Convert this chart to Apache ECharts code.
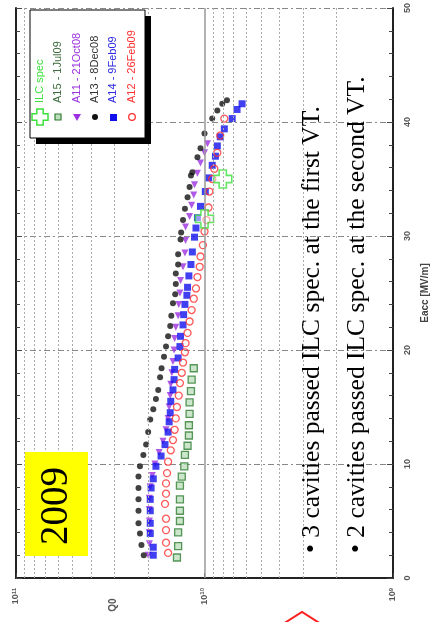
<!DOCTYPE html>
<html><head><meta charset="utf-8">
<script src="https://cdn.jsdelivr.net/npm/echarts/dist/echarts.min.js"></script>
<style>html,body{margin:0;padding:0;background:#fff}#c{width:438px;height:622px}</style>
</head><body><div id="c"></div>
<script>
// ---- data (Eacc in MV/m, Q0) ----
const ilcE = [31.5, 35.0];
const ilcQ = [1.0e10, 8.0e9];

const a15E = [1.8, 2.8, 4.0, 5.0, 5.9, 6.9, 8.1, 8.9, 9.8, 10.8, 11.6, 12.5, 13.4, 14.4, 15.4, 16.4, 17.4, 18.4];
const a15Q = [1.40e10, 1.38e10, 1.38e10, 1.35e10, 1.35e10, 1.35e10, 1.35e10, 1.32e10, 1.28e10, 1.27e10, 1.23e10, 1.21e10, 1.21e10, 1.20e10, 1.20e10, 1.18e10, 1.17e10, 1.14e10];

const a11E = [2.0, 3.0, 4.0, 5.0, 6.0, 7.0, 8.0, 9.0, 10.0, 11.0, 12.0, 13.0, 14.0, 15.0, 16.0, 17.0, 18.0, 19.0, 20.0, 21.0, 22.0, 23.0, 24.0, 25.0, 26.1, 27.3, 28.5, 29.6, 30.8, 31.7, 32.7, 33.6, 34.5, 35.5, 36.4, 37.3, 38.1];
const a11Q = [1.99e10, 1.96e10, 1.96e10, 1.96e10, 1.96e10, 1.96e10, 1.94e10, 1.89e10, 1.83e10, 1.74e10, 1.66e10, 1.60e10, 1.56e10, 1.54e10, 1.52e10, 1.51e10, 1.49e10, 1.47e10, 1.45e10, 1.44e10, 1.42e10, 1.38e10, 1.37e10, 1.35e10, 1.34e10, 1.30e10, 1.27e10, 1.26e10, 1.26e10, 1.20e10, 1.17e10, 1.14e10, 1.13e10, 1.09e10, 1.05e10, 1.00e10, 9.64e9];

const a13E = [2.0, 2.9, 3.9, 4.8, 5.9, 6.9, 7.9, 8.9, 9.8, 10.8, 11.7, 12.8, 13.9, 14.8, 15.7, 16.5, 17.6, 18.4, 19.4, 20.3, 21.2, 22.1, 23.0, 24.1, 24.9, 25.8, 26.7, 27.5, 28.4, 29.7, 30.3, 31.4, 32.4, 33.4, 34.3, 35.3, 35.6, 36.9, 37.7, 39.0, 40.3, 41.0, 41.6, 41.9];
const a13Q = [2.10e10, 2.16e10, 2.20e10, 2.24e10, 2.24e10, 2.24e10, 2.24e10, 2.24e10, 2.20e10, 2.11e10, 2.04e10, 1.99e10, 1.94e10, 1.87e10, 1.81e10, 1.76e10, 1.72e10, 1.69e10, 1.64e10, 1.60e10, 1.56e10, 1.52e10, 1.50e10, 1.47e10, 1.43e10, 1.42e10, 1.42e10, 1.38e10, 1.38e10, 1.34e10, 1.33e10, 1.30e10, 1.27e10, 1.23e10, 1.20e10, 1.18e10, 1.16e10, 1.09e10, 1.05e10, 1.00e10, 9.10e9, 8.55e9, 8.05e9, 7.60e9];

const a14E = [2.0, 2.7, 3.9, 4.8, 5.9, 6.9, 7.9, 8.7, 9.8, 10.7, 11.7, 12.8, 13.7, 14.5, 15.5, 16.5, 17.4, 18.3, 19.3, 20.3, 21.2, 22.2, 23.1, 24.0, 24.8, 25.5, 26.5, 27.5, 28.6, 29.9, 30.7, 31.6, 32.6, 33.9, 35.1, 36.2, 37.0, 37.9, 38.7, 39.4, 40.3, 41.1, 41.6];
const a14Q = [1.87e10, 1.87e10, 1.94e10, 1.94e10, 1.94e10, 1.94e10, 1.92e10, 1.87e10, 1.81e10, 1.70e10, 1.62e10, 1.56e10, 1.54e10, 1.52e10, 1.51e10, 1.47e10, 1.45e10, 1.44e10, 1.38e10, 1.35e10, 1.34e10, 1.30e10, 1.29e10, 1.27e10, 1.24e10, 1.23e10, 1.21e10, 1.18e10, 1.16e10, 1.13e10, 1.11e10, 1.09e10, 1.05e10, 9.9e9, 9.5e9, 9.1e9, 8.75e9, 8.55e9, 8.25e9, 7.85e9, 7.13e9, 6.72e9, 6.32e9];

const a12E = [2.2, 3.1, 4.2, 5.2, 6.5, 7.4, 8.3, 9.2, 10.2, 11.2, 12.1, 13.0, 14.0, 15.0, 16.0, 17.1, 18.0, 18.9, 19.8, 20.6, 21.5, 22.5, 23.5, 24.5, 25.4, 26.4, 27.3, 28.2, 29.2, 30.4, 31.4, 32.5, 33.9, 35.0, 35.9, 37.3, 38.8, 40.3];
const a12Q = [1.56e10, 1.60e10, 1.60e10, 1.60e10, 1.62e10, 1.60e10, 1.60e10, 1.58e10, 1.56e10, 1.51e10, 1.47e10, 1.44e10, 1.42e10, 1.40e10, 1.37e10, 1.35e10, 1.32e10, 1.30e10, 1.27e10, 1.26e10, 1.23e10, 1.20e10, 1.17e10, 1.14e10, 1.11e10, 1.09e10, 1.06e10, 1.05e10, 1.02e10, 1.00e10, 9.77e9, 9.53e9, 9.42e9, 9.1e9, 8.87e9, 8.55e9, 8.25e9, 7.85e9];

const legendLabels = ['ILC spec', 'A15 - 1Jul09', 'A11 - 21Oct08', 'A13 - 8Dec08', 'A14 - 9Feb09', 'A12 - 26Feb09'];
const gridQ = [2e9, 3e9, 4e9, 5e9, 6e9, 7e9, 8e9, 9e9, 2e10, 3e10, 4e10, 5e10, 6e10, 7e10, 8e10, 9e10];
const notes = ['\u2022 3 cavities passed ILC spec. at the first VT.', '\u2022 2 cavities passed ILC spec. at the second VT.'];
const yearLabel = '2009';

// ---- helpers ----
const pairs = (q, e) => q.map((v, i) => [v, e[i]]);
const PLUS = 'path://M3,0L7,0L7,3L10,3L10,7L7,7L7,10L3,10L3,7L0,7L0,3L3,3Z';
const ROT = Math.PI / 2;
const plusPoly = (cx, cy, s) => {
  const u = s / 10, x0 = cx - s / 2, y0 = cy - s / 2;
  return [[3,0],[7,0],[7,3],[10,3],[10,7],[7,7],[7,10],[3,10],[3,7],[0,7],[0,3],[3,3]].map(p => [x0 + p[0] * u, y0 + p[1] * u]);
};

const colors = {ilc: '#3de03d', a15: '#2f7d32', a11: '#9b30e0', a13: '#111111', a14: '#1010ee', a12: '#ff3030'};
const legendColors = ['#3de03d', '#3b6b3b', '#9b30e0', '#333333', '#2a2ae0', '#ff3030'];

const chart = echarts.init(document.getElementById('c'), null, {renderer: 'canvas'});

const expFmt = v => '10{s|' + Math.round(Math.log10(v)) + '}';

const graphics = [];
graphics.push({type: 'rect', shape: {x: 36, y: 16, width: 115, height: 128}, style: {fill: '#000'}, z: 10});
graphics.push({type: 'rect', shape: {x: 30, y: 10, width: 115, height: 128}, style: {fill: '#fff', stroke: '#000', lineWidth: 1}, z: 11});
const legX = [40, 58, 77, 95, 113, 132];
legendLabels.forEach((t, i) => {
  graphics.push({type: 'text', x: legX[i], y: 103, rotation: ROT, z: 12,
    style: {text: t, fill: legendColors[i], font: '11px "Liberation Sans", Arial, sans-serif', textAlign: 'left', textVerticalAlign: 'middle'}});
});
graphics.push({type: 'polygon', z: 12, shape: {points: plusPoly(40, 117, 16)}, style: {fill: '#fff', stroke: colors.ilc, lineWidth: 1.5}});
graphics.push({type: 'rect', z: 12, shape: {x: 55, y: 114, width: 6, height: 6}, style: {fill: '#bfe0bf', stroke: colors.a15, lineWidth: 1.2}});
graphics.push({type: 'polygon', z: 12, shape: {points: [[73, 114], [81, 114], [77, 121]]}, style: {fill: colors.a11}});
graphics.push({type: 'circle', z: 12, shape: {cx: 95, cy: 117, r: 3}, style: {fill: colors.a13}});
graphics.push({type: 'rect', z: 12, shape: {x: 110, y: 114, width: 7, height: 7}, style: {fill: colors.a14}});
graphics.push({type: 'circle', z: 12, shape: {cx: 132, cy: 117, r: 3.3}, style: {fill: '#fff', stroke: colors.a12, lineWidth: 1.3}});

graphics.push({type: 'rect', z: 10, shape: {x: 25, y: 452, width: 63, height: 104}, style: {fill: '#ffff00'}});
graphics.push({type: 'text', x: 57, y: 506, rotation: ROT, z: 11,
  style: {text: yearLabel, fill: '#000', font: '39px "Liberation Serif", "Times New Roman", serif', textAlign: 'center', textVerticalAlign: 'middle'}});

graphics.push({type: 'text', x: 312, y: 553, rotation: ROT, z: 11,
  style: {text: notes[0], fill: '#000', font: '25.5px "Liberation Serif", "Times New Roman", serif', textAlign: 'left', textVerticalAlign: 'middle'}});
graphics.push({type: 'text', x: 357, y: 553, rotation: ROT, z: 11,
  style: {text: notes[1], fill: '#000', font: '25.5px "Liberation Serif", "Times New Roman", serif', textAlign: 'left', textVerticalAlign: 'middle'}});

graphics.push({type: 'text', x: 113, y: 605, rotation: ROT, z: 11,
  style: {text: 'Q0', fill: '#555', font: 'bold 10px "Liberation Sans", Arial, sans-serif', textAlign: 'center', textVerticalAlign: 'middle'}});

graphics.push({type: 'polyline', z: 11, shape: {points: [[283, 624], [302, 612], [321, 624]]}, style: {stroke: '#ff2020', lineWidth: 2, fill: null}});

const gridLines = gridQ.map(v => ({xAxis: v}));
gridLines.push({xAxis: 1e10, lineStyle: {type: 'solid', color: '#999', width: 1.5}});

const option = {
  animation: false,
  backgroundColor: '#fff',
  grid: {left: 16, right: 41, top: 1, bottom: 44, containLabel: false},
  xAxis: [{
    type: 'log', logBase: 10, min: 1e9, max: 1e11, inverse: true, position: 'bottom',
    axisLine: {show: true, lineStyle: {color: '#222', width: 2}},
    axisTick: {show: true, inside: true, length: 5, lineStyle: {color: '#444'}},
    axisLabel: {rotate: 90, margin: 10, color: '#555', fontSize: 9, fontWeight: 'bold', formatter: expFmt,
      rich: {s: {fontSize: 6, fontWeight: 'bold', color: '#555', verticalAlign: 'top', padding: [0, 0, 4, 0]}}},
    splitLine: {show: false}
  }, {
    type: 'log', logBase: 10, min: 1e9, max: 1e11, inverse: true, position: 'top',
    axisLine: {show: true, lineStyle: {color: '#222', width: 2}},
    axisTick: {show: false}, axisLabel: {show: false}, splitLine: {show: false}
  }],
  yAxis: [{
    type: 'value', min: 0, max: 50, interval: 10, position: 'right',
    name: 'Eacc [MV/m]', nameLocation: 'middle', nameRotate: 90, nameGap: 27,
    nameTextStyle: {color: '#444', fontSize: 10, fontWeight: 'bold'},
    axisLine: {show: true, lineStyle: {color: '#222', width: 2}},
    axisTick: {show: true, inside: true, length: 6, lineStyle: {color: '#444'}},
    minorTick: {show: true, splitNumber: 5, length: 4, lineStyle: {color: '#444'}},
    axisLabel: {rotate: 90, margin: 10, color: '#555', fontSize: 9, fontWeight: 'bold'},
    splitLine: {show: true, lineStyle: {color: '#888', type: [6, 3, 2, 3], width: 1}}
  }, {
    type: 'value', min: 0, max: 50, interval: 10, position: 'left',
    axisLine: {show: true, lineStyle: {color: '#222', width: 2}},
    axisTick: {show: true, inside: true, length: 6, lineStyle: {color: '#444'}},
    minorTick: {show: true, splitNumber: 5, length: 4, lineStyle: {color: '#444'}},
    axisLabel: {show: false}, splitLine: {show: false}
  }],
  graphic: graphics,
  series: [
    {name: 'A15 - 1Jul09', type: 'scatter', data: pairs(a15Q, a15E), symbol: 'rect', symbolSize: 7,
      itemStyle: {color: '#bfe0bf', borderColor: colors.a15, borderWidth: 1.3}, z: 3,
      markLine: {silent: true, symbol: 'none', label: {show: false}, animation: false,
        lineStyle: {type: [2, 2], color: '#aaa', width: 1}, data: gridLines}},
    {name: 'A11 - 21Oct08', type: 'scatter', data: pairs(a11Q, a11E), symbol: 'triangle', symbolRotate: 180, symbolSize: 7,
      itemStyle: {color: colors.a11}, z: 3},
    {name: 'A13 - 8Dec08', type: 'scatter', data: pairs(a13Q, a13E), symbol: 'circle', symbolSize: 6,
      itemStyle: {color: colors.a13}, z: 3},
    {name: 'A14 - 9Feb09', type: 'scatter', data: pairs(a14Q, a14E), symbol: 'rect', symbolSize: 7,
      itemStyle: {color: colors.a14}, z: 3},
    {name: 'A12 - 26Feb09', type: 'scatter', data: pairs(a12Q, a12E), symbol: 'circle', symbolSize: 7,
      itemStyle: {color: 'rgba(255,255,255,0)', borderColor: colors.a12, borderWidth: 1.3}, z: 3},
    {name: 'ILC spec', type: 'scatter', data: pairs(ilcQ, ilcE), symbol: PLUS, symbolSize: 18,
      itemStyle: {color: 'rgba(255,255,255,0.6)', borderColor: colors.ilc, borderWidth: 1.6}, z: 4}
  ]
};
chart.setOption(option);
</script></body></html>
